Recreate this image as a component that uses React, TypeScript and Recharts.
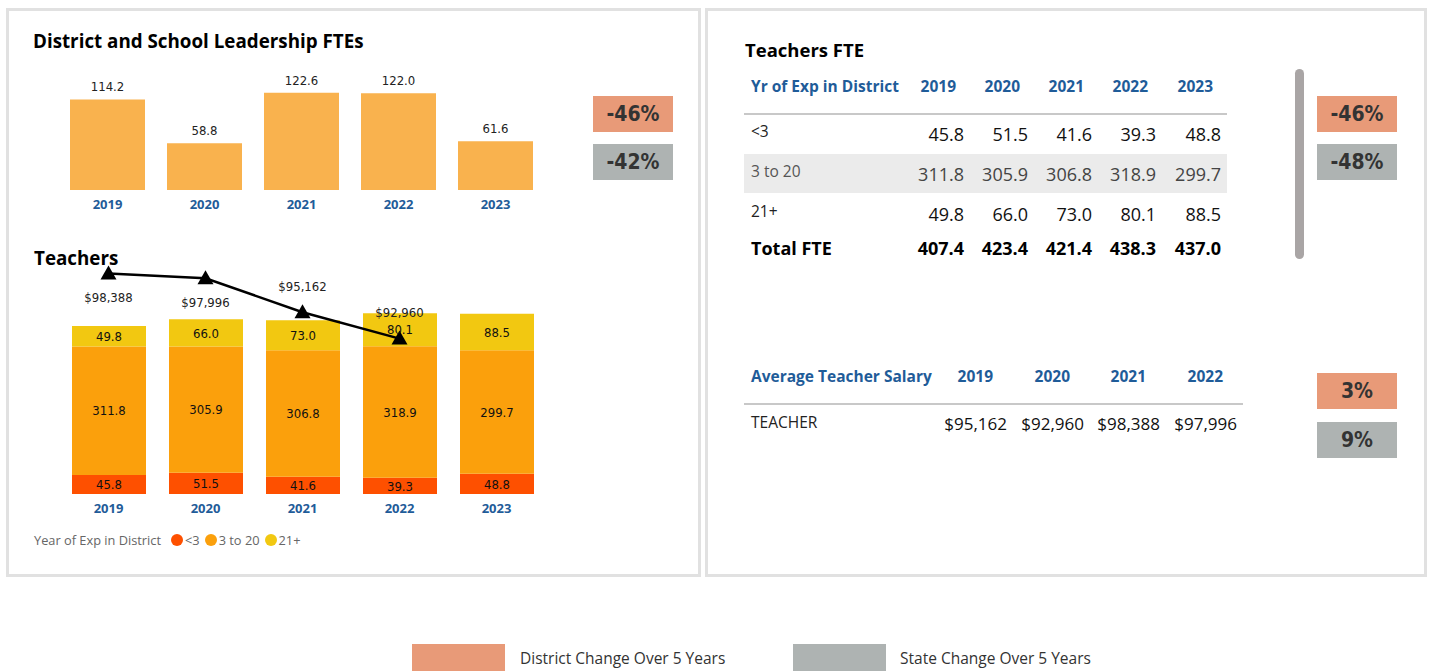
import React from 'react';
import { BarChart, Bar, XAxis, YAxis, LabelList, ComposedChart, Line } from 'recharts';

const years = ['2019', '2020', '2021', '2022', '2023'];
const leadershipFte = [114.2, 58.8, 122.6, 122.0, 61.6];
const expLt3 = [45.8, 51.5, 41.6, 39.3, 48.8];
const exp3to20 = [311.8, 305.9, 306.8, 318.9, 299.7];
const exp21plus = [49.8, 66.0, 73.0, 80.1, 88.5];
const totalFte = [407.4, 423.4, 421.4, 438.3, 437.0];
const lineSalary: (number | null)[] = [98388, 97996, 95162, 92960, null];
const salaryYears = ['2019', '2020', '2021', '2022'];
const tableSalary = [95162, 92960, 98388, 97996];
const expCategories = ['<3', '3 to 20', '21+'];
const leadershipBadges = ['-46%', '-42%'];
const fteBadges = ['-46%', '-48%'];
const salaryBadges = ['3%', '9%'];

const C_LEAD = '#F9B24E';
const C_LT3 = '#FE5000';
const C_MID = '#FBA00C';
const C_21 = '#F2C811';
const C_BLUE = '#1F5C99';
const C_DIST = '#E89A78';
const C_STATE = '#AEB3B2';
const SEGOE = "'Segoe UI', 'Open Sans', 'Noto Sans', sans-serif";
const DIN = "'DejaVu Sans', sans-serif";
const dinStyle: any = { fontFamily: DIN, fontStretch: 'condensed' };

const leadData = years.map((y, i) => ({ year: y, fte: leadershipFte[i] }));
const teachData = years.map((y, i) => ({
  year: y,
  lt3: expLt3[i],
  mid: exp3to20[i],
  old: exp21plus[i],
  salary: lineSalary[i],
}));
const expRows = [expLt3, exp3to20, exp21plus];

const fmtMoney = (v: number) => '$' + v.toLocaleString('en-US');

const Triangle = (props: any) => {
  const { cx, cy, value } = props;
  if (value == null || cx == null || cy == null) return null;
  return <polygon points={`${cx},${cy - 8} ${cx - 8},${cy + 6} ${cx + 8},${cy + 6}`} fill="#000" />;
};

const SalaryLabel = (props: any) => {
  const { x, y, value, index } = props;
  if (value == null) return null;
  const dy = index < 2 ? 25 : -25;
  return (
    <text x={x} y={y + dy} textAnchor="middle" dominantBaseline="middle" style={{ ...dinStyle, fontSize: 13 }} fill="#222">
      {fmtMoney(value)}
    </text>
  );
};

const Badge = ({ left, top, text, color }: { left: number; top: number; text: string; color: string }) => (
  <div
    style={{
      position: 'absolute', left, top, width: 80, height: 36, background: color,
      display: 'flex', alignItems: 'center', justifyContent: 'center',
      ...dinStyle, fontSize: 21, color: '#333', fontWeight: 'bold',
    }}
  >
    {text}
  </div>
);

const tickStyle = { fill: C_BLUE, fontSize: 13, fontWeight: 'bold', fontFamily: SEGOE };
const barLabelStyle = { ...dinStyle, fontSize: 13, fill: '#111' };

export default function App() {
  const fteColRight = [964, 1028, 1092, 1156, 1221];
  const salColRight = [1007, 1084, 1160, 1237];
  const rowTops = [114, 154, 194];
  return (
    <div style={{ position: 'absolute', left: 0, top: 0, width: 1430, height: 671, background: '#fff', fontFamily: SEGOE, overflow: 'hidden' }}>
      {/* Panels */}
      <div style={{ position: 'absolute', left: 6, top: 8, width: 689, height: 563, border: '3px solid #E1E1E1' }} />
      <div style={{ position: 'absolute', left: 705, top: 8, width: 716, height: 563, border: '3px solid #E1E1E1' }} />

      {/* Left panel: leadership */}
      <div style={{ position: 'absolute', left: 33, top: 28, fontSize: 18.8, fontWeight: 'bold', color: '#000' }}>
        District and School Leadership FTEs
      </div>
      <div style={{ position: 'absolute', left: 59, top: 71 }}>
        <BarChart width={485} height={149} data={leadData} margin={{ top: 0, right: 0, left: 0, bottom: 0 }}>
          <XAxis dataKey="year" axisLine={false} tickLine={false} height={30} tick={tickStyle} dy={2} />
          <YAxis hide domain={[0, 150]} />
          <Bar dataKey="fte" fill={C_LEAD} barSize={75} isAnimationActive={false}>
            <LabelList dataKey="fte" position="top" offset={8}
              formatter={(v: any) => Number(v).toFixed(1)}
              style={{ ...dinStyle, fontSize: 13, fill: '#222' }} />
          </Bar>
        </BarChart>
      </div>
      <Badge left={593} top={96} text={leadershipBadges[0]} color={C_DIST} />
      <Badge left={593} top={144} text={leadershipBadges[1]} color={C_STATE} />

      {/* Left panel: teachers */}
      <div style={{ position: 'absolute', left: 34, top: 245, fontSize: 18.8, fontWeight: 'bold', color: '#000' }}>
        Teachers
      </div>
      <div style={{ position: 'absolute', left: 60, top: 265 }}>
        <ComposedChart width={485} height={259} data={teachData} margin={{ top: 0, right: 0, left: 0, bottom: 0 }}>
          <XAxis dataKey="year" axisLine={false} tickLine={false} height={30} tick={tickStyle} dy={2} />
          <YAxis yAxisId="fte" hide domain={[0, 555]} />
          <YAxis yAxisId="sal" hide orientation="right" domain={[80000, 99100]} />
          <Bar yAxisId="fte" dataKey="lt3" stackId="a" fill={C_LT3} barSize={74} isAnimationActive={false}>
            <LabelList dataKey="lt3" position="center" formatter={(v: any) => Number(v).toFixed(1)} style={barLabelStyle} />
          </Bar>
          <Bar yAxisId="fte" dataKey="mid" stackId="a" fill={C_MID} barSize={74} isAnimationActive={false}>
            <LabelList dataKey="mid" position="center" formatter={(v: any) => Number(v).toFixed(1)} style={barLabelStyle} />
          </Bar>
          <Bar yAxisId="fte" dataKey="old" stackId="a" fill={C_21} barSize={74} isAnimationActive={false}>
            <LabelList dataKey="old" position="center" formatter={(v: any) => Number(v).toFixed(1)} style={barLabelStyle} />
          </Bar>
          <Line yAxisId="sal" dataKey="salary" stroke="#000" strokeWidth={2.5} dot={<Triangle />}
            activeDot={false} isAnimationActive={false} connectNulls={false}>
            <LabelList dataKey="salary" content={<SalaryLabel />} />
          </Line>
        </ComposedChart>
      </div>
      {/* Teachers legend */}
      <div style={{ position: 'absolute', left: 34, top: 531, display: 'flex', alignItems: 'center', fontSize: 12.8, color: '#666' }}>
        <span style={{ marginRight: 10 }}>Year of Exp in District</span>
        {expCategories.map((c, i) => (
          <span key={c} style={{ display: 'flex', alignItems: 'center', marginRight: 5 }}>
            <span style={{ width: 12, height: 12, borderRadius: 6, background: [C_LT3, C_MID, C_21][i], display: 'inline-block', marginRight: 2 }} />
            <span>{c}</span>
          </span>
        ))}
      </div>

      {/* Right panel: Teachers FTE table */}
      <div style={{ position: 'absolute', left: 745, top: 37, fontSize: 18.5, fontWeight: 'bold', color: '#000' }}>
        Teachers FTE
      </div>
      <div style={{ position: 'absolute', left: 751, top: 75, fontSize: 15.5, fontWeight: 'bold', color: C_BLUE }}>
        Yr of Exp in District
      </div>
      {years.map((y, i) => (
        <div key={y} style={{ position: 'absolute', left: fteColRight[i] - 60, width: 52, textAlign: 'right', top: 75, fontSize: 15.5, fontWeight: 'bold', color: C_BLUE }}>
          {y}
        </div>
      ))}
      <div style={{ position: 'absolute', left: 744, top: 113, width: 483, height: 2, background: '#C8C8C8' }} />
      <div style={{ position: 'absolute', left: 744, top: 154, width: 483, height: 39, background: '#EBEBEB' }} />
      {expCategories.map((c, r) => (
        <React.Fragment key={c}>
          <div style={{ position: 'absolute', left: 751, top: rowTops[r] + 2, fontSize: 15.5, color: r === 1 ? '#555' : '#222', lineHeight: '30px' }}>{c}</div>
          {expRows[r].map((v, i) => (
            <div key={i} style={{ position: 'absolute', left: fteColRight[i] - 62, width: 62, textAlign: 'right', top: rowTops[r] + 5, fontSize: 18, color: r === 1 ? '#444' : '#111', lineHeight: '30px' }}>
              {v.toFixed(1)}
            </div>
          ))}
        </React.Fragment>
      ))}
      <div style={{ position: 'absolute', left: 751, top: 233, fontSize: 18, fontWeight: 'bold', color: '#000', lineHeight: '30px' }}>Total FTE</div>
      {totalFte.map((v, i) => (
        <div key={i} style={{ position: 'absolute', left: fteColRight[i] - 62, width: 62, textAlign: 'right', top: 233, fontSize: 18, fontWeight: 'bold', color: '#000', lineHeight: '30px' }}>
          {v.toFixed(1)}
        </div>
      ))}
      <div style={{ position: 'absolute', left: 1295, top: 69, width: 9, height: 190, borderRadius: 5, background: '#A9A5A5' }} />
      <Badge left={1317} top={96} text={fteBadges[0]} color={C_DIST} />
      <Badge left={1317} top={144} text={fteBadges[1]} color={C_STATE} />

      {/* Right panel: salary table */}
      <div style={{ position: 'absolute', left: 751, top: 365, fontSize: 15.5, fontWeight: 'bold', color: C_BLUE }}>
        Average Teacher Salary
      </div>
      {salaryYears.map((y, i) => (
        <div key={y} style={{ position: 'absolute', left: salColRight[i] - 70, width: 56, textAlign: 'right', top: 365, fontSize: 15.5, fontWeight: 'bold', color: C_BLUE }}>
          {y}
        </div>
      ))}
      <div style={{ position: 'absolute', left: 744, top: 403, width: 499, height: 2, background: '#C8C8C8' }} />
      <div style={{ position: 'absolute', left: 751, top: 407, fontSize: 15.5, color: '#222', lineHeight: '30px' }}>TEACHER</div>
      {tableSalary.map((v, i) => (
        <div key={i} style={{ position: 'absolute', left: salColRight[i] - 76, width: 76, textAlign: 'right', top: 409, fontSize: 17, color: '#111', lineHeight: '30px' }}>
          {fmtMoney(v)}
        </div>
      ))}
      <Badge left={1317} top={373} text={salaryBadges[0]} color={C_DIST} />
      <Badge left={1317} top={422} text={salaryBadges[1]} color={C_STATE} />

      {/* Bottom legend */}
      <div style={{ position: 'absolute', left: 412, top: 644, width: 93, height: 30, background: C_DIST }} />
      <div style={{ position: 'absolute', left: 520, top: 647, fontSize: 15.5, color: '#333' }}>District Change Over 5 Years</div>
      <div style={{ position: 'absolute', left: 793, top: 644, width: 93, height: 30, background: C_STATE }} />
      <div style={{ position: 'absolute', left: 900, top: 647, fontSize: 15.5, color: '#333' }}>State Change Over 5 Years</div>
    </div>
  );
}
